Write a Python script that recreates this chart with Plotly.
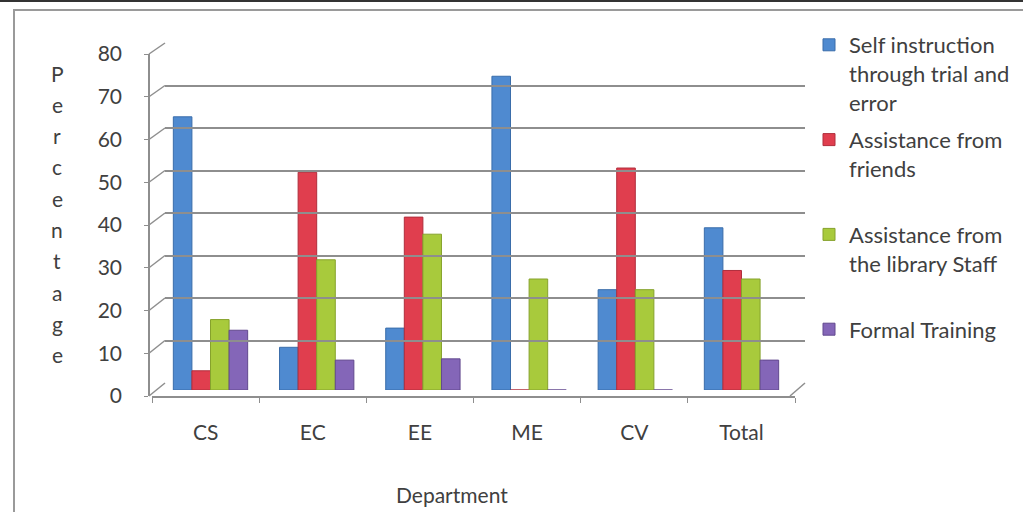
import plotly.graph_objects as go

# ---------------- data ----------------
categories = ["CS", "EC", "EE", "ME", "CV", "Total"]
self_instruction = [64, 10, 14.5, 73.5, 23.5, 38]
assist_friends = [4.5, 51, 40.5, 0, 52, 28]
assist_library = [16.5, 30.5, 36.5, 26, 23.5, 26]
formal_training = [14, 7, 7.3, 0, 0, 7]
series_names = [
    "Self instruction<br>through trial and<br>error",
    "Assistance from<br>friends<br> ",
    "Assistance from<br>the library Staff<br> ",
    "Formal Training",
]
y_ticks = [0, 10, 20, 30, 40, 50, 60, 70, 80]
y_title = "Percentage"
x_title = "Department"

# ---------------- styling ----------------
W, H = 1023, 512
colors = ["#4F8AD0", "#E03E4E", "#A8CA3C", "#8466B8"]
edges = ["#3A6DAA", "#B02E3C", "#86A22C", "#62498E"]
grid_col = "#8E8E8E"
text_col = "#404040"
FONT = "Lato"


def fx(px):
    return px / W


def fy(py):
    return 1 - py / H


fig = go.Figure()

all_series = [self_instruction, assist_friends, assist_library, formal_training]
for i, (vals, name) in enumerate(zip(all_series, series_names)):
    fig.add_trace(go.Bar(
        x=categories, y=vals, name=name,
        marker=dict(color=colors[i], line=dict(color=edges[i], width=1)),
        legendgroup=f"g{i}", xaxis="x", yaxis="y",
    ))

# invisible helper traces so that auxiliary axes are drawn
fig.add_trace(go.Scatter(x=categories, y=[0] * len(categories), xaxis="x2", yaxis="y2",
                         mode="markers", marker=dict(opacity=0), showlegend=False, hoverinfo="skip"))
fig.add_trace(go.Scatter(x=categories, y=[0] * len(categories), xaxis="x3", yaxis="y3",
                         mode="markers", marker=dict(opacity=0), showlegend=False, hoverinfo="skip"))

# geometry (pixels)
front_x0, front_x1 = 152, 795
front_y0, front_y80 = 396, 54
back_x0, back_x1 = 165, 805
back_y0, back_y80 = 383, 43
bar_x0, bar_x1 = 157.4, 794.6
bar_y0, bar_y80 = 390, 48.5

fig.update_layout(
    width=W, height=H,
    margin=dict(l=0, r=0, t=0, b=0, pad=0, autoexpand=False),
    paper_bgcolor="white", plot_bgcolor="rgba(0,0,0,0)",
    barmode="group", bargap=0.3, bargroupgap=0,
    font=dict(family=FONT, color=text_col),
    showlegend=True,
    legend=dict(
        x=fx(809), y=fy(24), xanchor="left", yanchor="top",
        valign="top", font=dict(size=22, color=text_col, family=FONT),
        tracegroupgap=6, bgcolor="rgba(0,0,0,0)", itemwidth=30,
    ),
    # bars
    xaxis=dict(domain=[fx(bar_x0), fx(bar_x1)], anchor="y", visible=False, automargin=False,
               categoryorder="array", categoryarray=categories, range=[-0.5, 5.5]),
    yaxis=dict(domain=[fy(bar_y0), fy(bar_y80)], anchor="x", range=[0, 80], visible=False,
               automargin=False),
    # front axes
    xaxis2=dict(domain=[fx(front_x0), fx(front_x1)], anchor="y2", automargin=False,
                categoryorder="array", categoryarray=categories, range=[-0.5, 5.5],
                showline=True, linecolor=grid_col, linewidth=1.5,
                ticks="outside", ticklen=5, tickcolor=grid_col, tickson="boundaries",
                tickfont=dict(size=21, color=text_col), ticklabelstandoff=17,
                showgrid=False, zeroline=False),
    yaxis2=dict(domain=[fy(front_y0), fy(front_y80)], anchor="free", position=fx(149),
                automargin=False, range=[0, 80], tickvals=y_ticks,
                showline=True, linecolor=grid_col, linewidth=1.5,
                ticks="outside", ticklen=4, tickcolor=grid_col,
                tickfont=dict(size=21, color=text_col), ticklabelstandoff=18,
                showgrid=False, zeroline=False),
    # back wall gridlines
    xaxis3=dict(domain=[fx(back_x0), fx(back_x1)], anchor="y3", visible=False, automargin=False,
                categoryorder="array", categoryarray=categories, range=[-0.5, 5.5]),
    yaxis3=dict(domain=[fy(back_y0), fy(back_y80)], anchor="x3", range=[0, 80], automargin=False,
                tickvals=y_ticks, showticklabels=False, showgrid=True,
                gridcolor=grid_col, gridwidth=1.5, zeroline=False, showline=False, ticks=""),
)

shapes = []
# perspective connectors from front axis to back wall
for v in y_ticks:
    yf = front_y0 + (front_y80 - front_y0) * v / 80
    yb = back_y0 + (back_y80 - back_y0) * v / 80
    shapes.append(dict(type="line", xref="paper", yref="paper",
                       x0=fx(149), y0=fy(yf), x1=fx(back_x0), y1=fy(yb),
                       line=dict(color=grid_col, width=1.5), layer="below"))
# right edge of floor
shapes.append(dict(type="line", xref="paper", yref="paper",
                   x0=fx(front_x1 - 5), y0=fy(front_y0), x1=fx(back_x1), y1=fy(back_y0),
                   line=dict(color=grid_col, width=1.5), layer="below"))
# outer frame
shapes.append(dict(type="rect", xref="paper", yref="paper",
                   x0=fx(14), y0=fy(10), x1=fx(1040), y1=fy(530),
                   line=dict(color="#9A9A9A", width=2)))
shapes.append(dict(type="line", xref="paper", yref="paper",
                   x0=0, y0=fy(1), x1=1, y1=fy(1),
                   line=dict(color="#333333", width=2)))
fig.update_layout(shapes=shapes)

annotations = []
# vertical stacked y title
for k, ch in enumerate(y_title):
    annotations.append(dict(text=ch, xref="paper", yref="paper",
                            x=fx(57), y=fy(73 + k * 31.3), xanchor="center", yanchor="middle",
                            showarrow=False, font=dict(size=21, color=text_col, family=FONT)))
annotations.append(dict(text=x_title, xref="paper", yref="paper",
                        x=fx(452), y=fy(494), xanchor="center", yanchor="middle",
                        showarrow=False, font=dict(size=21, color=text_col, family=FONT)))
fig.update_layout(annotations=annotations)

fig.write_html("out.html")
